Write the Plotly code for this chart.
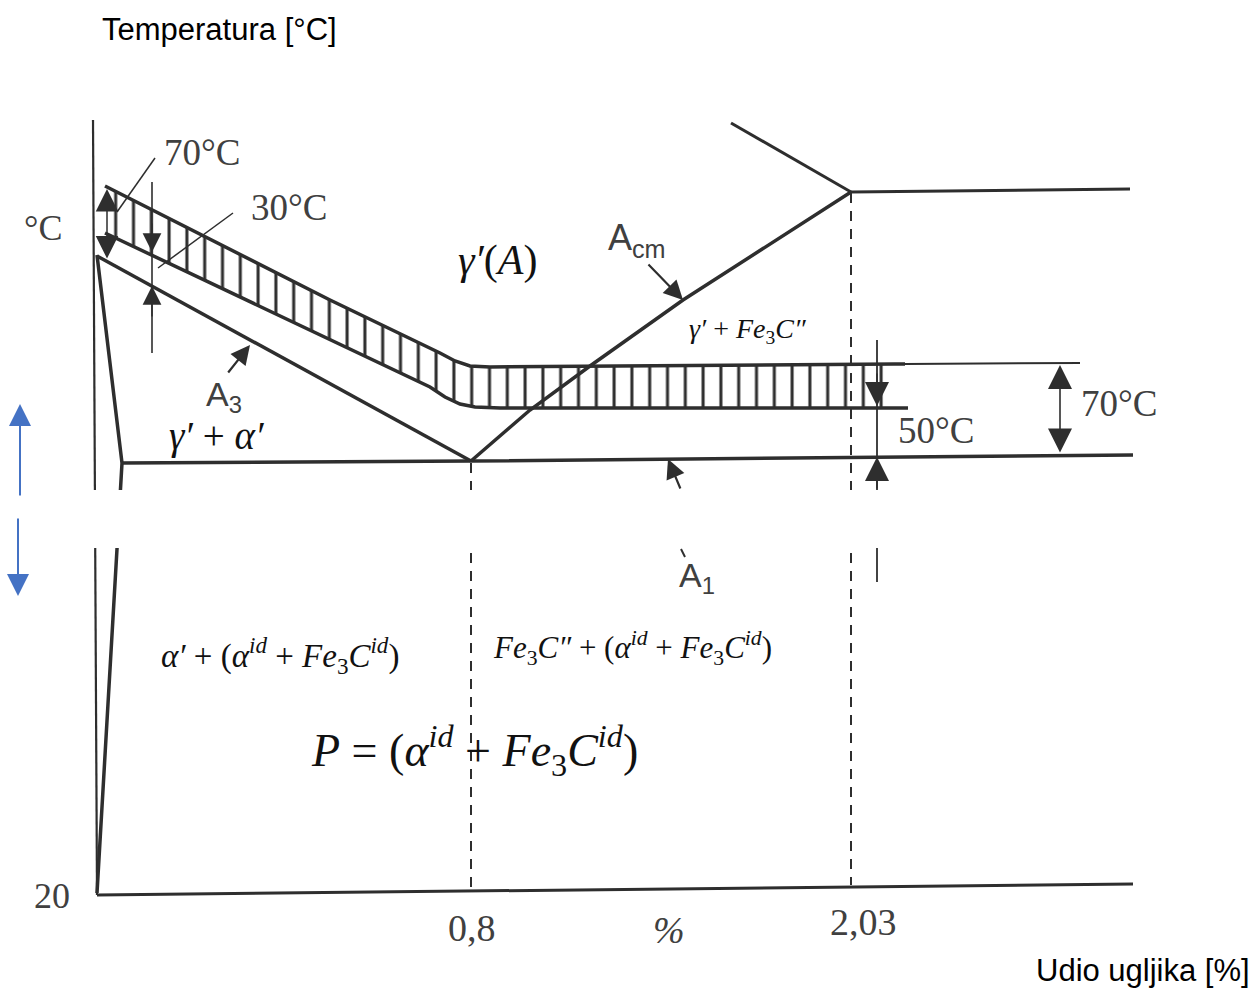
import plotly.graph_objects as go

# ---------------- diagram data (schematic units, y grows downward) ----------------
axis_left_x = [93, 97]
axis_left_y = [120, 895]
axis_bottom_x = [97, 1133]
axis_bottom_y = [895, 884]

solvus_x = [97, 122, 97]
solvus_y = [255, 463, 893]
A3_x = [97, 471]
A3_y = [256, 461]
A1_x = [122, 471, 1133]
A1_y = [463, 461, 455]
Acm_x = [471, 530, 590, 683, 851]
Acm_y = [461, 410, 366, 300, 192]
upper_left_x = [731, 851]
upper_left_y = [123, 192]
upper_right_x = [851, 1130]
upper_right_y = [192, 189]

dash08_x = [471, 471]
dash08_y = [463, 893]
dash203_x = [851, 851]
dash203_y = [193, 885]

band_upper_x = [105, 330, 440, 455, 470, 490, 895, 905]
band_upper_y = [186, 300, 353, 361, 366, 367, 364, 364]
band_lower_x = [105, 330, 430, 445, 460, 475, 500, 895, 908]
band_lower_y = [233, 340, 387, 397, 404, 407, 408, 408, 408]
band_ext_x = [905, 1080]
band_ext_y = [364, 363]

v877_x = [877, 877]
v877_y = [340, 582]
v152_x = [152, 152]
v152_y = [182, 353]
leader70_x = [155, 117]
leader70_y = [158, 212]
leader30_x = [233, 158]
leader30_y = [213, 268]
a1_tail_x = [681, 685]
a1_tail_y = [549, 557]

gap_x = [85, 1145]
gap_y = [490, 548]

# arrows: (tip_x, tip_y, tail_x, tail_y, both_ends, line_width, head_size, colour)
arrows = [
    (107, 189, 107, 260, True, 1.5, 3.0, "#2e2e2e"),
    (152, 252, 152, 222, False, 1.5, 2.5, "#2e2e2e"),
    (152, 286, 152, 318, False, 1.5, 2.5, "#2e2e2e"),
    (250, 345, 227, 374, False, 2.2, 1.75, "#2e2e2e"),
    (683, 300, 647, 263, False, 2.2, 1.75, "#2e2e2e"),
    (668, 459, 681, 490, False, 2.2, 1.75, "#2e2e2e"),
    (877, 406, 877, 372, False, 1.6, 3.0, "#2e2e2e"),
    (877, 457, 877, 490, False, 1.6, 3.0, "#2e2e2e"),
    (1060, 365, 1060, 454, True, 1.6, 3.0, "#2e2e2e"),
    (20, 404, 20, 497, False, 2.0, 2.2, "#4472C4"),
    (18, 596, 18, 517, False, 2.0, 2.2, "#4472C4"),
]

# labels: (text, x, y, family, size, colour)
SANS = "Liberation Sans"
SERIF = "Liberation Serif"
labels = [
    ("Temperatura [°C]", 219, 29, SANS, 31, "#000000"),
    ("Udio ugljika [%]", 1143, 970, SANS, 31, "#000000"),
    ("°C", 43, 228, SERIF, 36, "#404040"),
    ("70°C", 202, 152, SERIF, 37, "#404040"),
    ("30°C", 289, 207, SERIF, 37, "#404040"),
    ("70°C", 1119, 403, SERIF, 37, "#404040"),
    ("50°C", 936, 430, SERIF, 37, "#404040"),
    ("20", 52, 896, SERIF, 36, "#404040"),
    ("0,8", 472, 928, SERIF, 38, "#404040"),
    ("<i>%</i>", 669, 930, SERIF, 38, "#404040"),
    ("2,03", 863, 922, SERIF, 38, "#404040"),
    ("A<sub>3</sub>", 224, 396, SANS, 34, "#404040"),
    ("A<sub>cm</sub>", 637, 240, SANS, 36, "#404040"),
    ("A<sub>1</sub>", 697, 577, SANS, 34, "#404040"),
    ("<i>γ′</i>(<i>A</i>)", 497, 260, SERIF, 42, "#111111"),
    ("<i>γ′</i> + <i>Fe</i><sub>3</sub><i>C″</i>", 747, 330, SERIF, 28, "#111111"),
    ("<i>γ′</i> + <i>α′</i>", 216, 436, SERIF, 39, "#111111"),
    ("<i>α′</i> + (<i>α</i><sup><i>id</i></sup> + <i>Fe</i><sub>3</sub><i>C</i><sup><i>id</i></sup>)",
     280, 655, SERIF, 33, "#111111"),
    ("<i>Fe</i><sub>3</sub><i>C″</i> + (<i>α</i><sup><i>id</i></sup> + <i>Fe</i><sub>3</sub><i>C</i><sup><i>id</i></sup>)",
     632, 648, SERIF, 31, "#111111"),
    ("<i>P</i> = (<i>α</i><sup><i>id</i></sup> + <i>Fe</i><sub>3</sub><i>C</i><sup><i>id</i></sup>)",
     474, 750, SERIF, 46, "#111111"),
]

# ---------------- figure ----------------
INK = "#2e2e2e"
fig = go.Figure()

# hatched band (vertical hatching via fill pattern)
poly_x = band_upper_x[:-1] + band_lower_x[-2::-1]
poly_y = band_upper_y[:-1] + band_lower_y[-2::-1]
fig.add_trace(go.Scatter(
    x=poly_x, y=poly_y, mode="lines", fill="toself", line=dict(width=0),
    fillcolor="white",
    fillpattern=dict(shape="|", size=17.8, solidity=0.17, fgcolor=INK,
                     bgcolor="white", fillmode="replace"),
    hoverinfo="skip"))


def line(xs, ys, w, dash=None, color=INK):
    fig.add_trace(go.Scatter(x=xs, y=ys, mode="lines",
                             line=dict(color=color, width=w, dash=dash),
                             hoverinfo="skip"))


line(axis_left_x, axis_left_y, 2.2)
line(axis_bottom_x, axis_bottom_y, 3)
line(solvus_x, solvus_y, 3.5)
line(A3_x, A3_y, 3.5)
line(A1_x, A1_y, 3.5)
line(Acm_x, Acm_y, 3.5)
line(upper_left_x, upper_left_y, 3)
line(upper_right_x, upper_right_y, 3)
line(dash08_x, dash08_y, 2, dash="10px,8px")
line(dash203_x, dash203_y, 2, dash="10px,8px")
line(band_upper_x, band_upper_y, 3.5)
line(band_lower_x, band_lower_y, 3.5)
line(band_ext_x, band_ext_y, 2)
line(v877_x, v877_y, 1.8)
line(v152_x, v152_y, 1.6)
line(leader70_x, leader70_y, 1.5)
line(leader30_x, leader30_y, 1.5)
line(a1_tail_x, a1_tail_y, 2)

# white strip where the scanned drawing is interrupted
fig.add_shape(type="rect", x0=gap_x[0], x1=gap_x[1], y0=gap_y[0], y1=gap_y[1],
              fillcolor="white", line=dict(width=0), layer="above")

for tx, ty, ax, ay, both, w, hs, col in arrows:
    kw = dict(x=tx, y=ty, ax=ax, ay=ay, xref="x", yref="y", axref="x", ayref="y",
              text="", showarrow=True, arrowhead=2, arrowsize=hs, arrowwidth=w,
              arrowcolor=col, standoff=0, startstandoff=0)
    if both:
        kw.update(arrowside="end+start", startarrowhead=2, startarrowsize=hs)
    fig.add_annotation(**kw)

for txt, lx, ly, fam, sz, col in labels:
    fig.add_annotation(x=lx, y=ly, xref="x", yref="y", text=txt, showarrow=False,
                       xanchor="center", yanchor="middle",
                       font=dict(family=fam, size=sz, color=col))

fig.update_layout(
    width=1255, height=992, margin=dict(l=0, r=0, t=0, b=0),
    paper_bgcolor="white", plot_bgcolor="white", showlegend=False,
    xaxis=dict(range=[0, 1255], visible=False, fixedrange=True),
    yaxis=dict(range=[992, 0], visible=False, fixedrange=True),
)

fig.write_html("out.html", config={"displayModeBar": False},
               post_script="document.body.style.margin='0';document.body.style.overflow='hidden';")
